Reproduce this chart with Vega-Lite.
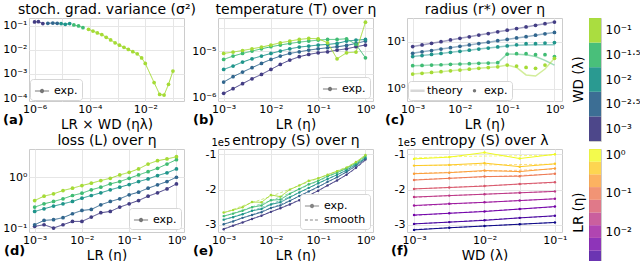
{
"$schema": "https://vega.github.io/schema/vega-lite/v6.json",
"padding": {"left": 2, "top": 1, "right": 0, "bottom": 0},
"config": {
  "font": "DejaVu Sans",
  "view": {"stroke": "#cccccc", "strokeWidth": 1},
  "axis": {"grid": true, "gridColor": "#e6e6e6", "gridWidth": 1, "domain": false, "ticks": false, "labelFontSize": 11, "labelColor": "#000000", "labelPadding": 2, "labelFlush": false, "labelOverlap": false, "titleFontSize": 13.5, "titleFontWeight": "normal", "titleColor": "#000000", "titlePadding": 3},
  "title": {"fontSize": 13, "fontWeight": "bold", "color": "#000000"},
  "legend": {"labelFontSize": 11, "labelColor": "#000000"}
},
"datasets": {
  "a": [
    {"lrwd":1e-6,"var":0.148,"wd":0.001},
    {"lrwd":1.38e-6,"var":0.151,"wd":0.001},
    {"lrwd":2.0e-6,"var":0.126,"wd":0.001},
    {"lrwd":3.02e-6,"var":0.129,"wd":0.00316},
    {"lrwd":4.57e-6,"var":0.133,"wd":0.00316},
    {"lrwd":6.61e-6,"var":0.129,"wd":0.00316},
    {"lrwd":9.12e-6,"var":0.126,"wd":0.01},
    {"lrwd":1.29e-5,"var":0.117,"wd":0.01},
    {"lrwd":1.86e-5,"var":0.126,"wd":0.01},
    {"lrwd":2.63e-5,"var":0.110,"wd":0.0316},
    {"lrwd":3.89e-5,"var":0.100,"wd":0.0316},
    {"lrwd":5.62e-5,"var":0.0851,"wd":0.0316},
    {"lrwd":8.91e-5,"var":0.0724,"wd":0.1},
    {"lrwd":1.29e-4,"var":0.0617,"wd":0.1},
    {"lrwd":1.86e-4,"var":0.0513,"wd":0.1},
    {"lrwd":2.69e-4,"var":0.0437,"wd":0.1},
    {"lrwd":3.89e-4,"var":0.0339,"wd":0.1},
    {"lrwd":5.62e-4,"var":0.0263,"wd":0.1},
    {"lrwd":8.13e-4,"var":0.0200,"wd":0.1},
    {"lrwd":1.17e-3,"var":0.0158,"wd":0.1},
    {"lrwd":1.70e-3,"var":0.0129,"wd":0.1},
    {"lrwd":2.45e-3,"var":0.0105,"wd":0.1},
    {"lrwd":3.55e-3,"var":0.00851,"wd":0.1},
    {"lrwd":5.13e-3,"var":0.00692,"wd":0.1},
    {"lrwd":7.41e-3,"var":0.00468,"wd":0.1},
    {"lrwd":0.01,"var":0.00275,"wd":0.1},
    {"lrwd":0.0209,"var":4.4e-4,"wd":0.1},
    {"lrwd":0.0331,"var":1.41e-4,"wd":0.1},
    {"lrwd":0.0479,"var":1.33e-4,"wd":0.1},
    {"lrwd":0.0692,"var":3.7e-4,"wd":0.1},
    {"lrwd":0.1,"var":1.33e-3,"wd":0.1}
  ],
  "b": [
    {"lr":0.001,"wd":0.001,"T":1.24e-6},{"lr":0.00158,"wd":0.001,"T":1.56e-6},{"lr":0.00251,"wd":0.001,"T":2.0e-6},{"lr":0.00398,"wd":0.001,"T":2.55e-6},
    {"lr":0.00631,"wd":0.001,"T":3.16e-6},{"lr":0.01,"wd":0.001,"T":4.05e-6},{"lr":0.0158,"wd":0.001,"T":5.18e-6},{"lr":0.0251,"wd":0.001,"T":6.41e-6},
    {"lr":0.0398,"wd":0.001,"T":7.57e-6},{"lr":0.0631,"wd":0.001,"T":8.49e-6},{"lr":0.1,"wd":0.001,"T":9.2e-6},{"lr":0.158,"wd":0.001,"T":9.68e-6},
    {"lr":0.251,"wd":0.001,"T":1.05e-5},{"lr":0.398,"wd":0.001,"T":1.12e-5},{"lr":0.631,"wd":0.001,"T":1.24e-5},{"lr":1,"wd":0.001,"T":1.35e-5},
    {"lr":0.001,"wd":0.00316,"T":2.17e-6},{"lr":0.00158,"wd":0.00316,"T":2.82e-6},{"lr":0.00251,"wd":0.00316,"T":3.55e-6},{"lr":0.00398,"wd":0.00316,"T":4.4e-6},
    {"lr":0.00631,"wd":0.00316,"T":5.45e-6},{"lr":0.01,"wd":0.00316,"T":6.62e-6},{"lr":0.0158,"wd":0.00316,"T":7.82e-6},{"lr":0.0251,"wd":0.00316,"T":8.91e-6},
    {"lr":0.0398,"wd":0.00316,"T":9.68e-6},{"lr":0.0631,"wd":0.00316,"T":1.05e-5},{"lr":0.1,"wd":0.00316,"T":1.12e-5},{"lr":0.158,"wd":0.00316,"T":1.18e-5},
    {"lr":0.251,"wd":0.00316,"T":1.24e-5},{"lr":0.398,"wd":0.00316,"T":1.32e-5},{"lr":0.631,"wd":0.00316,"T":1.46e-5},{"lr":1,"wd":0.00316,"T":1.64e-5},
    {"lr":0.001,"wd":0.01,"T":4.05e-6},{"lr":0.00158,"wd":0.01,"T":4.78e-6},{"lr":0.00251,"wd":0.01,"T":5.81e-6},{"lr":0.00398,"wd":0.01,"T":6.85e-6},
    {"lr":0.00631,"wd":0.01,"T":7.82e-6},{"lr":0.01,"wd":0.01,"T":8.91e-6},{"lr":0.0158,"wd":0.01,"T":1.0e-5},{"lr":0.0251,"wd":0.01,"T":1.12e-5},
    {"lr":0.0398,"wd":0.01,"T":1.22e-5},{"lr":0.0631,"wd":0.01,"T":1.28e-5},{"lr":0.1,"wd":0.01,"T":1.35e-5},{"lr":0.158,"wd":0.01,"T":1.39e-5},
    {"lr":0.251,"wd":0.01,"T":1.46e-5},{"lr":0.398,"wd":0.01,"T":1.64e-5},{"lr":0.631,"wd":0.01,"T":1.72e-5},{"lr":1,"wd":0.01,"T":1.78e-5},
    {"lr":0.001,"wd":0.0316,"T":6.62e-6},{"lr":0.00158,"wd":0.0316,"T":7.82e-6},{"lr":0.00251,"wd":0.0316,"T":8.91e-6},{"lr":0.00398,"wd":0.0316,"T":1.0e-5},
    {"lr":0.00631,"wd":0.0316,"T":1.12e-5},{"lr":0.01,"wd":0.0316,"T":1.24e-5},{"lr":0.0158,"wd":0.0316,"T":1.35e-5},{"lr":0.0251,"wd":0.0316,"T":1.46e-5},
    {"lr":0.0398,"wd":0.0316,"T":1.56e-5},{"lr":0.0631,"wd":0.0316,"T":1.64e-5},{"lr":0.1,"wd":0.0316,"T":1.72e-5},{"lr":0.158,"wd":0.0316,"T":1.78e-5},
    {"lr":0.251,"wd":0.0316,"T":1.78e-5},{"lr":0.398,"wd":0.0316,"T":1.84e-5},{"lr":0.631,"wd":0.0316,"T":1.39e-5},{"lr":1,"wd":0.0316,"T":7.19e-6},
    {"lr":0.001,"wd":0.1,"T":8.91e-6},{"lr":0.00158,"wd":0.1,"T":9.53e-6},{"lr":0.00251,"wd":0.1,"T":1.03e-5},{"lr":0.00398,"wd":0.1,"T":1.12e-5},
    {"lr":0.00631,"wd":0.1,"T":1.22e-5},{"lr":0.01,"wd":0.1,"T":1.35e-5},{"lr":0.0158,"wd":0.1,"T":1.51e-5},{"lr":0.0251,"wd":0.1,"T":1.64e-5},
    {"lr":0.0398,"wd":0.1,"T":1.78e-5},{"lr":0.0631,"wd":0.1,"T":1.87e-5},{"lr":0.1,"wd":0.1,"T":1.84e-5},{"lr":0.158,"wd":0.1,"T":1.51e-5},
    {"lr":0.251,"wd":0.1,"T":6.85e-6},{"lr":0.398,"wd":0.1,"T":9.2e-6},{"lr":0.631,"wd":0.1,"T":9.53e-6},{"lr":1,"wd":0.1,"T":4.18e-5}
  ],
  "c": [
    {"lr":0.001,"wd":0.001,"r":7.82,"rt":7.82},{"lr":0.00158,"wd":0.001,"r":8.47,"rt":8.47},{"lr":0.00251,"wd":0.001,"r":9.16,"rt":9.16},{"lr":0.00398,"wd":0.001,"r":9.93,"rt":9.93},
    {"lr":0.00631,"wd":0.001,"r":10.8,"rt":10.8},{"lr":0.01,"wd":0.001,"r":11.7,"rt":11.7},{"lr":0.0158,"wd":0.001,"r":12.6,"rt":12.6},{"lr":0.0251,"wd":0.001,"r":13.7,"rt":13.7},
    {"lr":0.0398,"wd":0.001,"r":14.8,"rt":14.8},{"lr":0.0631,"wd":0.001,"r":16.1,"rt":16.1},{"lr":0.1,"wd":0.001,"r":17.4,"rt":17.4},{"lr":0.158,"wd":0.001,"r":18.8,"rt":18.8},
    {"lr":0.251,"wd":0.001,"r":20.4,"rt":20.4},{"lr":0.398,"wd":0.001,"r":22.1,"rt":22.1},{"lr":0.631,"wd":0.001,"r":23.9,"rt":23.9},{"lr":1,"wd":0.001,"r":25.9,"rt":25.9},
    {"lr":0.001,"wd":0.00316,"r":5.62,"rt":5.62},{"lr":0.00158,"wd":0.00316,"r":6.03,"rt":6.03},{"lr":0.00251,"wd":0.00316,"r":6.44,"rt":6.44},{"lr":0.00398,"wd":0.00316,"r":6.9,"rt":6.9},
    {"lr":0.00631,"wd":0.00316,"r":7.38,"rt":7.38},{"lr":0.01,"wd":0.00316,"r":7.91,"rt":7.91},{"lr":0.0158,"wd":0.00316,"r":8.45,"rt":8.45},{"lr":0.0251,"wd":0.00316,"r":9.06,"rt":9.06},
    {"lr":0.0398,"wd":0.00316,"r":9.68,"rt":9.68},{"lr":0.0631,"wd":0.00316,"r":10.4,"rt":10.4},{"lr":0.1,"wd":0.00316,"r":11.1,"rt":11.1},{"lr":0.158,"wd":0.00316,"r":11.9,"rt":11.9},
    {"lr":0.251,"wd":0.00316,"r":12.7,"rt":12.7},{"lr":0.398,"wd":0.00316,"r":13.6,"rt":13.6},{"lr":0.631,"wd":0.00316,"r":14.6,"rt":14.6},{"lr":1,"wd":0.00316,"r":15.6,"rt":15.6},
    {"lr":0.001,"wd":0.01,"r":4.78,"rt":4.78},{"lr":0.00158,"wd":0.01,"r":5.04,"rt":5.04},{"lr":0.00251,"wd":0.01,"r":5.31,"rt":5.31},{"lr":0.00398,"wd":0.01,"r":5.58,"rt":5.58},
    {"lr":0.00631,"wd":0.01,"r":5.89,"rt":5.89},{"lr":0.01,"wd":0.01,"r":6.21,"rt":6.21},{"lr":0.0158,"wd":0.01,"r":6.55,"rt":6.55},{"lr":0.0251,"wd":0.01,"r":6.9,"rt":6.9},
    {"lr":0.0398,"wd":0.01,"r":7.26,"rt":7.26},{"lr":0.0631,"wd":0.01,"r":7.66,"rt":7.66},{"lr":0.1,"wd":0.01,"r":8.07,"rt":8.07},{"lr":0.158,"wd":0.01,"r":8.5,"rt":8.3},
    {"lr":0.251,"wd":0.01,"r":9.0,"rt":8.45},{"lr":0.398,"wd":0.01,"r":9.0,"rt":8.5},{"lr":0.631,"wd":0.01,"r":9.3,"rt":8.5},{"lr":1,"wd":0.01,"r":9.5,"rt":8.5},
    {"lr":0.001,"wd":0.0316,"r":3.06,"rt":3.06},{"lr":0.00158,"wd":0.0316,"r":3.11,"rt":3.11},{"lr":0.00251,"wd":0.0316,"r":3.16,"rt":3.16},{"lr":0.00398,"wd":0.0316,"r":3.21,"rt":3.21},
    {"lr":0.00631,"wd":0.0316,"r":3.27,"rt":3.27},{"lr":0.01,"wd":0.0316,"r":3.33,"rt":3.33},{"lr":0.0158,"wd":0.0316,"r":3.38,"rt":3.38},{"lr":0.0251,"wd":0.0316,"r":3.44,"rt":3.44},
    {"lr":0.0398,"wd":0.0316,"r":3.49,"rt":3.49},{"lr":0.0631,"wd":0.0316,"r":3.55,"rt":3.55},{"lr":0.1,"wd":0.0316,"r":5.37,"rt":5.45},{"lr":0.158,"wd":0.0316,"r":5.5,"rt":5.37},
    {"lr":0.251,"wd":0.0316,"r":5.5,"rt":5.25},{"lr":0.398,"wd":0.0316,"r":5.25,"rt":4.79},{"lr":0.631,"wd":0.0316,"r":5.25,"rt":3.98},{"lr":1,"wd":0.0316,"r":4.79,"rt":3.16},
    {"lr":0.001,"wd":0.1,"r":2.03,"rt":2.03},{"lr":0.00158,"wd":0.1,"r":2.11,"rt":2.11},{"lr":0.00251,"wd":0.1,"r":2.2,"rt":2.2},{"lr":0.00398,"wd":0.1,"r":2.29,"rt":2.29},
    {"lr":0.00631,"wd":0.1,"r":2.38,"rt":2.38},{"lr":0.01,"wd":0.1,"r":2.48,"rt":2.48},{"lr":0.0158,"wd":0.1,"r":2.58,"rt":2.58},{"lr":0.0251,"wd":0.1,"r":2.69,"rt":2.69},
    {"lr":0.0398,"wd":0.1,"r":2.8,"rt":2.8},{"lr":0.0631,"wd":0.1,"r":2.91,"rt":2.91},{"lr":0.1,"wd":0.1,"r":3.16,"rt":3.16},{"lr":0.158,"wd":0.1,"r":3.01,"rt":2.82},
    {"lr":0.251,"wd":0.1,"r":2.82,"rt":1.95},{"lr":0.398,"wd":0.1,"r":2.69,"rt":1.85},{"lr":0.631,"wd":0.1,"r":3.16,"rt":2.6},{"lr":1,"wd":0.1,"r":4.4,"rt":4.4}
  ],
  "d": [
    {"lr":0.001,"wd":0.001,"L":0.108},{"lr":0.00158,"wd":0.001,"L":0.116},{"lr":0.00251,"wd":0.001,"L":0.100},{"lr":0.00398,"wd":0.001,"L":0.116},
    {"lr":0.00631,"wd":0.001,"L":0.135},{"lr":0.01,"wd":0.001,"L":0.135},{"lr":0.0158,"wd":0.001,"L":0.164},{"lr":0.0251,"wd":0.001,"L":0.200},
    {"lr":0.0398,"wd":0.001,"L":0.212},{"lr":0.0631,"wd":0.001,"L":0.258},{"lr":0.1,"wd":0.001,"L":0.300},{"lr":0.158,"wd":0.001,"L":0.348},
    {"lr":0.251,"wd":0.001,"L":0.424},{"lr":0.398,"wd":0.001,"L":0.493},{"lr":0.631,"wd":0.001,"L":0.590},{"lr":1,"wd":0.001,"L":0.740},
    {"lr":0.001,"wd":0.00316,"L":0.116},{"lr":0.00158,"wd":0.00316,"L":0.141},{"lr":0.00251,"wd":0.00316,"L":0.146},{"lr":0.00398,"wd":0.00316,"L":0.160},
    {"lr":0.00631,"wd":0.00316,"L":0.191},{"lr":0.01,"wd":0.00316,"L":0.222},{"lr":0.0158,"wd":0.00316,"L":0.232},{"lr":0.0251,"wd":0.00316,"L":0.287},
    {"lr":0.0398,"wd":0.00316,"L":0.333},{"lr":0.0631,"wd":0.00316,"L":0.376},{"lr":0.1,"wd":0.00316,"L":0.451},{"lr":0.158,"wd":0.00316,"L":0.508},
    {"lr":0.251,"wd":0.00316,"L":0.608},{"lr":0.398,"wd":0.00316,"L":0.708},{"lr":0.631,"wd":0.00316,"L":0.822},{"lr":1,"wd":0.00316,"L":1.0},
    {"lr":0.001,"wd":0.01,"L":0.212},{"lr":0.00158,"wd":0.01,"L":0.239},{"lr":0.00251,"wd":0.01,"L":0.270},{"lr":0.00398,"wd":0.01,"L":0.300},
    {"lr":0.00631,"wd":0.01,"L":0.333},{"lr":0.01,"wd":0.01,"L":0.387},{"lr":0.0158,"wd":0.01,"L":0.437},{"lr":0.0251,"wd":0.01,"L":0.493},
    {"lr":0.0398,"wd":0.01,"L":0.565},{"lr":0.0631,"wd":0.01,"L":0.637},{"lr":0.1,"wd":0.01,"L":0.718},{"lr":0.158,"wd":0.01,"L":0.822},
    {"lr":0.251,"wd":0.01,"L":0.927},{"lr":0.398,"wd":0.01,"L":1.08},{"lr":0.631,"wd":0.01,"L":1.22},{"lr":1,"wd":0.01,"L":1.46},
    {"lr":0.001,"wd":0.0316,"L":0.258},{"lr":0.00158,"wd":0.0316,"L":0.300},{"lr":0.00251,"wd":0.0316,"L":0.333},{"lr":0.00398,"wd":0.0316,"L":0.376},
    {"lr":0.00631,"wd":0.0316,"L":0.437},{"lr":0.01,"wd":0.0316,"L":0.485},{"lr":0.0158,"wd":0.0316,"L":0.565},{"lr":0.0251,"wd":0.0316,"L":0.637},
    {"lr":0.0398,"wd":0.0316,"L":0.740},{"lr":0.0631,"wd":0.0316,"L":0.822},{"lr":0.1,"wd":0.0316,"L":0.955},{"lr":0.158,"wd":0.0316,"L":1.11},
    {"lr":0.251,"wd":0.0316,"L":1.29},{"lr":0.398,"wd":0.0316,"L":1.50},{"lr":0.631,"wd":0.0316,"L":1.82},{"lr":1,"wd":0.0316,"L":2.22},
    {"lr":0.001,"wd":0.1,"L":0.348},{"lr":0.00158,"wd":0.1,"L":0.424},{"lr":0.00251,"wd":0.1,"L":0.471},{"lr":0.00398,"wd":0.1,"L":0.548},
    {"lr":0.00631,"wd":0.1,"L":0.608},{"lr":0.01,"wd":0.1,"L":0.687},{"lr":0.0158,"wd":0.1,"L":0.762},{"lr":0.0251,"wd":0.1,"L":0.861},
    {"lr":0.0398,"wd":0.1,"L":0.955},{"lr":0.0631,"wd":0.1,"L":1.11},{"lr":0.1,"wd":0.1,"L":1.25},{"lr":0.158,"wd":0.1,"L":1.46},
    {"lr":0.251,"wd":0.1,"L":1.82},{"lr":0.398,"wd":0.1,"L":2.12},{"lr":0.631,"wd":0.1,"L":2.29},{"lr":1,"wd":0.1,"L":2.54}
  ],
  "e": [
    {"lr":0.001,"wd":0.001,"S":-312000,"Ss":-311000},{"lr":0.00158,"wd":0.001,"S":-302000,"Ss":-302000},{"lr":0.00251,"wd":0.001,"S":-293000,"Ss":-293000},{"lr":0.00398,"wd":0.001,"S":-283000,"Ss":-283000},
    {"lr":0.00631,"wd":0.001,"S":-274000,"Ss":-273000},{"lr":0.01,"wd":0.001,"S":-263000,"Ss":-263000},{"lr":0.0158,"wd":0.001,"S":-253000,"Ss":-252000},{"lr":0.0251,"wd":0.001,"S":-242000,"Ss":-241000},
    {"lr":0.0398,"wd":0.001,"S":-230000,"Ss":-229000},{"lr":0.0631,"wd":0.001,"S":-217000,"Ss":-216000},{"lr":0.1,"wd":0.001,"S":-203000,"Ss":-203000},{"lr":0.158,"wd":0.001,"S":-188000,"Ss":-189000},
    {"lr":0.251,"wd":0.001,"S":-174000,"Ss":-174000},{"lr":0.398,"wd":0.001,"S":-158000,"Ss":-158000},{"lr":0.631,"wd":0.001,"S":-138000,"Ss":-140000},{"lr":1,"wd":0.001,"S":-115000,"Ss":-117000},
    {"lr":0.001,"wd":0.00316,"S":-298000,"Ss":-298000},{"lr":0.00158,"wd":0.00316,"S":-290000,"Ss":-289000},{"lr":0.00251,"wd":0.00316,"S":-280000,"Ss":-280000},{"lr":0.00398,"wd":0.00316,"S":-272000,"Ss":-271000},
    {"lr":0.00631,"wd":0.00316,"S":-264000,"Ss":-262000},{"lr":0.01,"wd":0.00316,"S":-252000,"Ss":-252000},{"lr":0.0158,"wd":0.00316,"S":-245000,"Ss":-242000},{"lr":0.0251,"wd":0.00316,"S":-232000,"Ss":-231000},
    {"lr":0.0398,"wd":0.00316,"S":-218000,"Ss":-219000},{"lr":0.0631,"wd":0.00316,"S":-205000,"Ss":-206000},{"lr":0.1,"wd":0.00316,"S":-192000,"Ss":-193000},{"lr":0.158,"wd":0.00316,"S":-178000,"Ss":-179000},
    {"lr":0.251,"wd":0.00316,"S":-165000,"Ss":-165000},{"lr":0.398,"wd":0.00316,"S":-150000,"Ss":-150000},{"lr":0.631,"wd":0.00316,"S":-132000,"Ss":-134000},{"lr":1,"wd":0.00316,"S":-112000,"Ss":-115000},
    {"lr":0.001,"wd":0.01,"S":-285000,"Ss":-286000},{"lr":0.00158,"wd":0.01,"S":-278000,"Ss":-277000},{"lr":0.00251,"wd":0.01,"S":-270000,"Ss":-269000},{"lr":0.00398,"wd":0.01,"S":-260000,"Ss":-260000},
    {"lr":0.00631,"wd":0.01,"S":-255000,"Ss":-251000},{"lr":0.01,"wd":0.01,"S":-242000,"Ss":-241000},{"lr":0.0158,"wd":0.01,"S":-236000,"Ss":-231000},{"lr":0.0251,"wd":0.01,"S":-222000,"Ss":-220000},
    {"lr":0.0398,"wd":0.01,"S":-208000,"Ss":-208000},{"lr":0.0631,"wd":0.01,"S":-195000,"Ss":-196000},{"lr":0.1,"wd":0.01,"S":-182000,"Ss":-183000},{"lr":0.158,"wd":0.01,"S":-170000,"Ss":-170000},
    {"lr":0.251,"wd":0.01,"S":-158000,"Ss":-158000},{"lr":0.398,"wd":0.01,"S":-145000,"Ss":-145000},{"lr":0.631,"wd":0.01,"S":-128000,"Ss":-130000},{"lr":1,"wd":0.01,"S":-110000,"Ss":-112000},
    {"lr":0.001,"wd":0.0316,"S":-275000,"Ss":-276000},{"lr":0.00158,"wd":0.0316,"S":-268000,"Ss":-267000},{"lr":0.00251,"wd":0.0316,"S":-260000,"Ss":-258000},{"lr":0.00398,"wd":0.0316,"S":-250000,"Ss":-249000},
    {"lr":0.00631,"wd":0.0316,"S":-245000,"Ss":-240000},{"lr":0.01,"wd":0.0316,"S":-230000,"Ss":-231000},{"lr":0.0158,"wd":0.0316,"S":-228000,"Ss":-221000},{"lr":0.0251,"wd":0.0316,"S":-212000,"Ss":-210000},
    {"lr":0.0398,"wd":0.0316,"S":-198000,"Ss":-199000},{"lr":0.0631,"wd":0.0316,"S":-185000,"Ss":-187000},{"lr":0.1,"wd":0.0316,"S":-175000,"Ss":-176000},{"lr":0.158,"wd":0.0316,"S":-162000,"Ss":-164000},
    {"lr":0.251,"wd":0.0316,"S":-152000,"Ss":-152000},{"lr":0.398,"wd":0.0316,"S":-140000,"Ss":-140000},{"lr":0.631,"wd":0.0316,"S":-125000,"Ss":-126000},{"lr":1,"wd":0.0316,"S":-105000,"Ss":-108000},
    {"lr":0.001,"wd":0.1,"S":-265000,"Ss":-266000},{"lr":0.00158,"wd":0.1,"S":-258000,"Ss":-256000},{"lr":0.00251,"wd":0.1,"S":-250000,"Ss":-246000},{"lr":0.00398,"wd":0.1,"S":-235000,"Ss":-237000},
    {"lr":0.00631,"wd":0.1,"S":-236000,"Ss":-228000},{"lr":0.01,"wd":0.1,"S":-215000,"Ss":-219000},{"lr":0.0158,"wd":0.1,"S":-220000,"Ss":-209000},{"lr":0.0251,"wd":0.1,"S":-200000,"Ss":-199000},
    {"lr":0.0398,"wd":0.1,"S":-188000,"Ss":-188000},{"lr":0.0631,"wd":0.1,"S":-175000,"Ss":-178000},{"lr":0.1,"wd":0.1,"S":-168000,"Ss":-168000},{"lr":0.158,"wd":0.1,"S":-158000,"Ss":-158000},
    {"lr":0.251,"wd":0.1,"S":-148000,"Ss":-147000},{"lr":0.398,"wd":0.1,"S":-138000,"Ss":-136000},{"lr":0.631,"wd":0.1,"S":-122000,"Ss":-122000},{"lr":1,"wd":0.1,"S":-102000,"Ss":-105000}
  ],
  "f": [
    {"lr":0.001,"wd":0.001,"S":-314000,"Ss":-313000},{"lr":0.001,"wd":0.00316,"S":-308000,"Ss":-308000},{"lr":0.001,"wd":0.01,"S":-303000,"Ss":-303000},{"lr":0.001,"wd":0.0316,"S":-298000,"Ss":-298000},{"lr":0.001,"wd":0.1,"S":-293000,"Ss":-293000},
    {"lr":0.00215,"wd":0.001,"S":-297000,"Ss":-297000},{"lr":0.00215,"wd":0.00316,"S":-292000,"Ss":-292000},{"lr":0.00215,"wd":0.01,"S":-287000,"Ss":-286000},{"lr":0.00215,"wd":0.0316,"S":-280000,"Ss":-280000},{"lr":0.00215,"wd":0.1,"S":-274000,"Ss":-275000},
    {"lr":0.00464,"wd":0.001,"S":-272000,"Ss":-273000},{"lr":0.00464,"wd":0.00316,"S":-267000,"Ss":-267000},{"lr":0.00464,"wd":0.01,"S":-262000,"Ss":-261000},{"lr":0.00464,"wd":0.0316,"S":-255000,"Ss":-255000},{"lr":0.00464,"wd":0.1,"S":-248000,"Ss":-249000},
    {"lr":0.01,"wd":0.001,"S":-245000,"Ss":-246000},{"lr":0.01,"wd":0.00316,"S":-240000,"Ss":-241000},{"lr":0.01,"wd":0.01,"S":-236000,"Ss":-236000},{"lr":0.01,"wd":0.0316,"S":-231000,"Ss":-231000},{"lr":0.01,"wd":0.1,"S":-226000,"Ss":-226000},
    {"lr":0.0215,"wd":0.001,"S":-221000,"Ss":-222000},{"lr":0.0215,"wd":0.00316,"S":-217000,"Ss":-217000},{"lr":0.0215,"wd":0.01,"S":-213000,"Ss":-213000},{"lr":0.0215,"wd":0.0316,"S":-209000,"Ss":-209000},{"lr":0.0215,"wd":0.1,"S":-205000,"Ss":-205000},
    {"lr":0.0464,"wd":0.001,"S":-198000,"Ss":-198000},{"lr":0.0464,"wd":0.00316,"S":-194000,"Ss":-194000},{"lr":0.0464,"wd":0.01,"S":-190000,"Ss":-189000},{"lr":0.0464,"wd":0.0316,"S":-184000,"Ss":-185000},{"lr":0.0464,"wd":0.1,"S":-179000,"Ss":-180000},
    {"lr":0.1,"wd":0.001,"S":-173000,"Ss":-172000},{"lr":0.1,"wd":0.00316,"S":-168000,"Ss":-168000},{"lr":0.1,"wd":0.01,"S":-163000,"Ss":-164000},{"lr":0.1,"wd":0.0316,"S":-162000,"Ss":-160000},{"lr":0.1,"wd":0.1,"S":-155000,"Ss":-156000},
    {"lr":0.215,"wd":0.001,"S":-155000,"Ss":-154000},{"lr":0.215,"wd":0.00316,"S":-152000,"Ss":-151000},{"lr":0.215,"wd":0.01,"S":-146000,"Ss":-148000},{"lr":0.215,"wd":0.0316,"S":-149000,"Ss":-145000},{"lr":0.215,"wd":0.1,"S":-140000,"Ss":-142000},
    {"lr":0.464,"wd":0.001,"S":-132000,"Ss":-132000},{"lr":0.464,"wd":0.00316,"S":-130000,"Ss":-131000},{"lr":0.464,"wd":0.01,"S":-125000,"Ss":-130000},{"lr":0.464,"wd":0.0316,"S":-135000,"Ss":-129000},{"lr":0.464,"wd":0.1,"S":-127000,"Ss":-128000},
    {"lr":1,"wd":0.001,"S":-113000,"Ss":-110000},{"lr":1,"wd":0.00316,"S":-108000,"Ss":-107000},{"lr":1,"wd":0.01,"S":-95000,"Ss":-105000},{"lr":1,"wd":0.0316,"S":-112000,"Ss":-104000},{"lr":1,"wd":0.1,"S":-100000,"Ss":-102000}
  ],
  "cbwd": [{"wd":0.001},{"wd":0.00316},{"wd":0.01},{"wd":0.0316},{"wd":0.1}],
  "cblr": [{"lr":0.001},{"lr":0.00215},{"lr":0.00464},{"lr":0.01},{"lr":0.0215},{"lr":0.0464},{"lr":0.1},{"lr":0.215},{"lr":0.464},{"lr":1}]
},
"resolve": {"scale": {"color": "independent", "strokeDash": "independent", "opacity": "independent"}, "legend": {"color": "independent", "strokeDash": "independent", "opacity": "independent"}},
"bounds": "full",
"spacing": 2,
"hconcat": [
 {"bounds": "flush", "columns": 3, "spacing": {"row": 48, "column": 34},
  "resolve": {"scale": {"color": "independent", "strokeDash": "independent", "opacity": "independent"}, "legend": {"color": "independent", "strokeDash": "independent", "opacity": "independent"}},
  "concat": [
   {"width": 155, "height": 83, "data": {"name": "a"},
    "title": {"text": "(a)", "orient": "bottom", "anchor": "start", "frame": "group", "align": "left", "dx": -26, "offset": -17},
    "resolve": {"axis": {"x": "independent"}},
    "encoding": {
      "y": {"field": "var", "type": "quantitative", "scale": {"type": "log", "domain": [7.5e-5, 0.215], "nice": false},
            "axis": {"title": null, "values": [1e-4, 1e-3, 1e-2, 1e-1],
                     "labelExpr": "'10' + (round(log(datum.value)/LN10) < 0 ? '⁻' : '') + ['⁰','¹','²','³','⁴','⁵','⁶'][abs(round(log(datum.value)/LN10))]"}},
      "color": {"field": "wd", "type": "ordinal", "scale": {"domain": [0.001, 0.00316, 0.01, 0.0316, 0.1], "range": ["#433d84", "#31668e", "#1f958b", "#3fbc73", "#a5db36"]}, "legend": null}
    },
    "layer": [
      {"mark": {"type": "line", "strokeWidth": 1},
       "encoding": {
         "x": {"field": "lrwd", "type": "quantitative", "scale": {"type": "log", "domain": [6.31e-7, 0.251], "nice": false},
               "axis": {"title": "LR × WD (ηλ)", "values": [1e-6, 1e-5, 1e-4, 1e-3, 1e-2, 1e-1],
                        "labelExpr": "round(log(datum.value)/LN10) % 2 == 0 ? '10' + (round(log(datum.value)/LN10) < 0 ? '⁻' : '') + ['⁰','¹','²','³','⁴','⁵','⁶'][abs(round(log(datum.value)/LN10))] : ''"}},
         "strokeDash": {"datum": "exp.", "type": "nominal", "scale": {"domain": ["exp."], "range": [[1, 0]]},
         "legend": {"title": null, "orient": "bottom-left", "offset": 1, "fillColor": "#ffffff", "strokeColor": "#d6d6d6", "cornerRadius": 3, "padding": 4, "labelFontSize": 11, "symbolSize": 200,
           "symbolType": "M-1,0L1,0M-0.22,0A0.22,0.22,0,1,0,0.22,0A0.22,0.22,0,1,0,-0.22,0Z", "symbolStrokeWidth": 1.2, "symbolStrokeColor": "#777777", "symbolFillColor": "#777777",
           "encode": {"symbols": {"update": {"fill": {"value": "#777777"}, "stroke": {"value": "#777777"}, "opacity": {"value": 1}}}}}}}},
      {"mark": {"type": "point", "filled": true, "size": 14, "opacity": 1},
       "encoding": {"x": {"field": "lrwd", "type": "quantitative", "scale": {"type": "log", "domain": [6.31e-7, 0.251], "nice": false},
         "axis": {"orient": "top", "title": "stoch. grad. variance (σ²)", "labels": false, "grid": false, "ticks": false, "domain": false, "titleFontSize": 14, "titlePadding": 2}}}}
    ]},
   {"width": 155, "height": 83, "data": {"name": "b"},
    "title": {"text": "(b)", "orient": "bottom", "anchor": "start", "frame": "group", "align": "left", "dx": -25, "offset": -17},
    "resolve": {"axis": {"x": "independent"}},
    "encoding": {
      "y": {"field": "T", "type": "quantitative", "scale": {"type": "log", "domain": [8.5e-7, 5.13e-5], "nice": false},
            "axis": {"title": null, "values": [1e-6, 3.1623e-6, 1e-5, 3.1623e-5],
                     "labelExpr": "abs(log(datum.value)/LN10 - round(log(datum.value)/LN10)) < 0.05 ? '10' + (round(log(datum.value)/LN10) < 0 ? '⁻' : '') + ['⁰','¹','²','³','⁴','⁵','⁶'][abs(round(log(datum.value)/LN10))] : ''"}},
      "color": {"field": "wd", "type": "ordinal", "scale": {"domain": [0.001, 0.00316, 0.01, 0.0316, 0.1], "range": ["#433d84", "#31668e", "#1f958b", "#3fbc73", "#a5db36"]}, "legend": null}
    },
    "layer": [
      {"mark": {"type": "line", "strokeWidth": 1},
       "encoding": {
         "x": {"field": "lr", "type": "quantitative", "scale": {"type": "log", "domain": [7.59e-4, 1.445], "nice": false},
               "axis": {"title": "LR (η)", "values": [0.001, 0.01, 0.1, 1],
                        "labelExpr": "'10' + (round(log(datum.value)/LN10) < 0 ? '⁻' : '') + ['⁰','¹','²','³','⁴','⁵','⁶'][abs(round(log(datum.value)/LN10))]"}},
         "strokeDash": {"datum": "exp.", "type": "nominal", "scale": {"domain": ["exp."], "range": [[1, 0]]},
         "legend": {"title": null, "orient": "bottom-right", "offset": 3, "fillColor": "#ffffff", "strokeColor": "#d6d6d6", "cornerRadius": 3, "padding": 4, "labelFontSize": 11, "symbolSize": 200,
           "symbolType": "M-1,0L1,0M-0.22,0A0.22,0.22,0,1,0,0.22,0A0.22,0.22,0,1,0,-0.22,0Z", "symbolStrokeWidth": 1.2, "symbolStrokeColor": "#777777", "symbolFillColor": "#777777",
           "encode": {"symbols": {"update": {"fill": {"value": "#777777"}, "stroke": {"value": "#777777"}, "opacity": {"value": 1}}}}}}}},
      {"mark": {"type": "point", "filled": true, "size": 14, "opacity": 1},
       "encoding": {"x": {"field": "lr", "type": "quantitative", "scale": {"type": "log", "domain": [7.59e-4, 1.445], "nice": false},
         "axis": {"orient": "top", "title": "temperature (T) over η", "labels": false, "grid": false, "ticks": false, "domain": false, "titleFontSize": 14, "titlePadding": 2}}}}
    ]},
   {"width": 155, "height": 83, "data": {"name": "c"},
    "title": {"text": "(c)", "orient": "bottom", "anchor": "start", "frame": "group", "align": "left", "dx": -22, "offset": -17},
    "resolve": {"axis": {"x": "independent"}},
    "encoding": {
      "color": {"field": "wd", "type": "ordinal", "scale": {"domain": [0.001, 0.00316, 0.01, 0.0316, 0.1], "range": ["#433d84", "#31668e", "#1f958b", "#3fbc73", "#a5db36"]}, "legend": null}
    },
    "layer": [
      {"mark": {"type": "line", "strokeWidth": 1.5},
       "encoding": {
         "x": {"field": "lr", "type": "quantitative", "scale": {"type": "log", "domain": [7.59e-4, 1.445], "nice": false},
               "axis": {"title": "LR (η)", "values": [0.001, 0.01, 0.1, 1],
                        "labelExpr": "'10' + (round(log(datum.value)/LN10) < 0 ? '⁻' : '') + ['⁰','¹','²','³','⁴','⁵','⁶'][abs(round(log(datum.value)/LN10))]"}},
         "y": {"field": "rt", "type": "quantitative", "scale": {"type": "log", "domain": [0.545, 31.6], "nice": false},
               "axis": {"title": null, "values": [1, 10],
                        "labelExpr": "'10' + (round(log(datum.value)/LN10) < 0 ? '⁻' : '') + ['⁰','¹','²','³','⁴','⁵','⁶'][abs(round(log(datum.value)/LN10))]"}},
         "opacity": {"datum": "theory", "type": "nominal", "scale": {"domain": ["theory", "exp."], "range": [0.5, 1]},
           "legend": {"title": null, "orient": "bottom-left", "direction": "horizontal", "offset": 1, "fillColor": "#ffffff", "strokeColor": "#d6d6d6", "cornerRadius": 3, "padding": 4, "labelFontSize": 11, "symbolSize": 200, "columnPadding": 6,
             "encode": {"symbols": {"update": {
               "shape": {"signal": "datum.value === 'theory' ? 'M-1,0L1,0' : 'circle'"},
               "size": {"signal": "datum.value === 'theory' ? 200 : 12"},
               "strokeWidth": {"signal": "datum.value === 'theory' ? 2.5 : 0"},
               "stroke": {"value": "#b0b0b0"},
               "fill": {"signal": "datum.value === 'theory' ? 'transparent' : '#777777'"},
               "opacity": {"value": 1}}}}}}}},
      {"mark": {"type": "point", "filled": true, "size": 14},
       "encoding": {
         "x": {"field": "lr", "type": "quantitative", "scale": {"type": "log", "domain": [7.59e-4, 1.445], "nice": false},
               "axis": {"orient": "top", "title": "radius (r*) over η", "labels": false, "grid": false, "ticks": false, "domain": false, "titleFontSize": 14, "titlePadding": 2}},
         "y": {"field": "r", "type": "quantitative", "scale": {"type": "log", "domain": [0.545, 31.6], "nice": false}},
         "opacity": {"datum": "exp.", "type": "nominal"}}}
    ]},
   {"width": 155, "height": 83, "data": {"name": "d"},
    "title": {"text": "(d)", "orient": "bottom", "anchor": "start", "frame": "group", "align": "left", "dx": -25, "offset": -17},
    "resolve": {"axis": {"x": "independent"}},
    "encoding": {
      "y": {"field": "L", "type": "quantitative", "scale": {"type": "log", "domain": [0.0835, 3.6], "nice": false},
            "axis": {"title": null, "values": [0.1, 1],
                     "labelExpr": "'10' + (round(log(datum.value)/LN10) < 0 ? '⁻' : '') + ['⁰','¹','²','³','⁴','⁵','⁶'][abs(round(log(datum.value)/LN10))]"}},
      "color": {"field": "wd", "type": "ordinal", "scale": {"domain": [0.001, 0.00316, 0.01, 0.0316, 0.1], "range": ["#433d84", "#31668e", "#1f958b", "#3fbc73", "#a5db36"]}, "legend": null}
    },
    "layer": [
      {"mark": {"type": "line", "strokeWidth": 1},
       "encoding": {
         "x": {"field": "lr", "type": "quantitative", "scale": {"type": "log", "domain": [7.59e-4, 1.445], "nice": false},
               "axis": {"title": "LR (η)", "values": [0.001, 0.01, 0.1, 1],
                        "labelExpr": "'10' + (round(log(datum.value)/LN10) < 0 ? '⁻' : '') + ['⁰','¹','²','³','⁴','⁵','⁶'][abs(round(log(datum.value)/LN10))]"}},
         "strokeDash": {"datum": "exp.", "type": "nominal", "scale": {"domain": ["exp."], "range": [[1, 0]]},
         "legend": {"title": null, "orient": "bottom-right", "offset": 3, "fillColor": "#ffffff", "strokeColor": "#d6d6d6", "cornerRadius": 3, "padding": 4, "labelFontSize": 11, "symbolSize": 200,
           "symbolType": "M-1,0L1,0M-0.22,0A0.22,0.22,0,1,0,0.22,0A0.22,0.22,0,1,0,-0.22,0Z", "symbolStrokeWidth": 1.2, "symbolStrokeColor": "#777777", "symbolFillColor": "#777777",
           "encode": {"symbols": {"update": {"fill": {"value": "#777777"}, "stroke": {"value": "#777777"}, "opacity": {"value": 1}}}}}}}},
      {"mark": {"type": "point", "filled": true, "size": 14, "opacity": 1},
       "encoding": {"x": {"field": "lr", "type": "quantitative", "scale": {"type": "log", "domain": [7.59e-4, 1.445], "nice": false},
         "axis": {"orient": "top", "title": "loss (L) over η", "labels": false, "grid": false, "ticks": false, "domain": false, "titleFontSize": 14, "titlePadding": 2}}}}
    ]},
   {"width": 155, "height": 83, "data": {"name": "e"},
    "title": {"text": "(e)", "orient": "bottom", "anchor": "start", "frame": "group", "align": "left", "dx": -25, "offset": -17},
    "resolve": {"axis": {"x": "independent"}},
    "encoding": {
      "color": {"field": "wd", "type": "ordinal", "scale": {"domain": [0.001, 0.00316, 0.01, 0.0316, 0.1], "range": ["#433d84", "#31668e", "#1f958b", "#3fbc73", "#a5db36"]}, "legend": null}
    },
    "layer": [
      {"mark": {"type": "line", "strokeWidth": 1},
       "encoding": {
         "x": {"field": "lr", "type": "quantitative", "scale": {"type": "log", "domain": [7.59e-4, 1.445], "nice": false},
               "axis": {"title": "LR (η)", "values": [0.001, 0.01, 0.1, 1],
                        "labelExpr": "'10' + (round(log(datum.value)/LN10) < 0 ? '⁻' : '') + ['⁰','¹','²','³','⁴','⁵','⁶'][abs(round(log(datum.value)/LN10))]"}},
         "y": {"field": "S", "type": "quantitative", "scale": {"domain": [-320000, -85000], "nice": false, "zero": false},
               "axis": {"title": "1e5", "titleAngle": 0, "titleAlign": "left", "titleBaseline": "bottom", "titleX": -7, "titleY": -2, "titleFontSize": 10, "values": [-300000, -250000, -200000, -150000, -100000],
                        "labelExpr": "datum.value % 100000 == 0 ? '' + datum.value/100000 : ''"}},
         "strokeDash": {"datum": "exp.", "type": "nominal", "scale": {"domain": ["exp.", "smooth"], "range": [[1, 0], [3, 2]]},
           "legend": {"title": null, "orient": "bottom-right", "offset": 3, "fillColor": "#ffffff", "strokeColor": "#d6d6d6", "cornerRadius": 3, "padding": 4, "labelFontSize": 11, "symbolSize": 200, "rowPadding": 1,
             "encode": {"symbols": {"update": {
               "shape": {"signal": "datum.value === 'exp.' ? 'M-1,0L1,0M-0.22,0A0.22,0.22,0,1,0,0.22,0A0.22,0.22,0,1,0,-0.22,0Z' : 'M-1,0L1,0'"},
               "fill": {"signal": "datum.value === 'exp.' ? '#777777' : 'transparent'"},
               "stroke": {"value": "#888888"}, "strokeWidth": {"value": 1.2}, "opacity": {"value": 1}}}}}}}},
      {"mark": {"type": "point", "filled": true, "size": 6, "opacity": 1},
       "encoding": {
         "x": {"field": "lr", "type": "quantitative", "scale": {"type": "log", "domain": [7.59e-4, 1.445], "nice": false},
               "axis": {"orient": "top", "title": "entropy (S) over η", "labels": false, "grid": false, "ticks": false, "domain": false, "titleFontSize": 14, "titlePadding": 2}},
         "y": {"field": "S", "type": "quantitative", "scale": {"domain": [-320000, -85000], "nice": false, "zero": false}}}},
      {"mark": {"type": "line", "strokeWidth": 1, "opacity": 0.6},
       "encoding": {
         "x": {"field": "lr", "type": "quantitative", "scale": {"type": "log", "domain": [7.59e-4, 1.445], "nice": false}, "axis": null},
         "y": {"field": "Ss", "type": "quantitative", "scale": {"domain": [-320000, -85000], "nice": false, "zero": false}},
         "strokeDash": {"datum": "smooth", "type": "nominal"}}}
    ]},
   {"width": 155, "height": 83, "data": {"name": "f"},
    "title": {"text": "(f)", "orient": "bottom", "anchor": "start", "frame": "group", "align": "left", "dx": -16, "offset": -17},
    "resolve": {"axis": {"x": "independent"}},
    "encoding": {
      "color": {"field": "lr", "type": "ordinal", "scale": {"domain": [0.001, 0.00215, 0.00464, 0.01, 0.0215, 0.0464, 0.1, 0.215, 0.464, 1], "range": ["#0d0887", "#46039f", "#7201a8", "#9c179e", "#bd3786", "#d8576b", "#ed7953", "#fb9f3a", "#fdca26", "#f0f921"]}, "legend": null}
    },
    "layer": [
      {"mark": {"type": "line", "strokeWidth": 1},
       "encoding": {
         "x": {"field": "wd", "type": "quantitative", "scale": {"type": "log", "domain": [7.94e-4, 0.126], "nice": false},
               "axis": {"title": "WD (λ)", "values": [0.001, 0.0031623, 0.01, 0.031623, 0.1],
                        "labelExpr": "abs(log(datum.value)/LN10 - round(log(datum.value)/LN10)) < 0.05 ? '10' + (round(log(datum.value)/LN10) < 0 ? '⁻' : '') + ['⁰','¹','²','³','⁴','⁵','⁶'][abs(round(log(datum.value)/LN10))] : ''"}},
         "y": {"field": "S", "type": "quantitative", "scale": {"domain": [-320000, -85000], "nice": false, "zero": false},
               "axis": {"title": "1e5", "titleAngle": 0, "titleAlign": "left", "titleBaseline": "bottom", "titleX": -10, "titleY": -2, "titleFontSize": 10, "values": [-300000, -250000, -200000, -150000, -100000],
                        "labelExpr": "datum.value % 100000 == 0 ? '' + datum.value/100000 : ''"}}}},
      {"mark": {"type": "point", "filled": true, "size": 6, "opacity": 1},
       "encoding": {
         "x": {"field": "wd", "type": "quantitative", "scale": {"type": "log", "domain": [7.94e-4, 0.126], "nice": false},
               "axis": {"orient": "top", "title": "entropy (S) over λ", "labels": false, "grid": false, "ticks": false, "domain": false, "titleFontSize": 14, "titlePadding": 2}},
         "y": {"field": "S", "type": "quantitative", "scale": {"domain": [-320000, -85000], "nice": false, "zero": false}}}},
      {"mark": {"type": "line", "strokeWidth": 1, "opacity": 0.6, "strokeDash": [3, 2]},
       "encoding": {
         "x": {"field": "wd", "type": "quantitative", "scale": {"type": "log", "domain": [7.94e-4, 0.126], "nice": false}, "axis": null},
         "y": {"field": "Ss", "type": "quantitative", "scale": {"domain": [-320000, -85000], "nice": false, "zero": false}}}}
    ]}
  ]},
 {"bounds": "flush", "spacing": 8,
  "resolve": {"scale": {"color": "independent"}, "legend": {"color": "independent"}},
  "vconcat": [
   {"width": 12, "height": 123, "data": {"name": "cbwd"},
    "title": {"text": "WD (λ)", "orient": "left", "fontSize": 13.5, "fontWeight": "normal", "offset": 4, "frame": "group"},
    "mark": {"type": "rect", "opacity": 0.95},
    "encoding": {
      "y": {"field": "wd", "type": "ordinal", "sort": "descending", "scale": {"paddingInner": 0, "paddingOuter": 0},
            "axis": {"orient": "right", "title": null, "grid": false, "ticks": false, "labelFontSize": 12, "labelPadding": 4,
                     "labelExpr": "datum.value == 0.1 ? '10⁻¹' : datum.value == 0.0316 ? '10⁻¹·⁵' : datum.value == 0.01 ? '10⁻²' : datum.value == 0.00316 ? '10⁻²·⁵' : '10⁻³'"}},
      "color": {"field": "wd", "type": "ordinal", "scale": {"domain": [0.001, 0.00316, 0.01, 0.0316, 0.1], "range": ["#433d84", "#31668e", "#1f958b", "#3fbc73", "#a5db36"]}, "legend": null}
    }},
   {"width": 12, "height": 127, "data": {"name": "cblr"},
    "title": {"text": "LR (η)", "orient": "left", "fontSize": 13.5, "fontWeight": "normal", "offset": 4, "frame": "group"},
    "mark": {"type": "rect", "opacity": 0.8},
    "encoding": {
      "y": {"field": "lr", "type": "ordinal", "sort": "descending", "scale": {"paddingInner": 0, "paddingOuter": 0},
            "axis": {"orient": "right", "title": null, "grid": false, "ticks": false, "labelFontSize": 12, "labelPadding": 4,
                     "labelExpr": "datum.value == 1 ? '10⁰' : datum.value == 0.1 ? '10⁻¹' : datum.value == 0.01 ? '10⁻²' : datum.value == 0.001 ? '10⁻³' : ''"}},
      "color": {"field": "lr", "type": "ordinal", "scale": {"domain": [0.001, 0.00215, 0.00464, 0.01, 0.0215, 0.0464, 0.1, 0.215, 0.464, 1], "range": ["#0d0887", "#46039f", "#7201a8", "#9c179e", "#bd3786", "#d8576b", "#ed7953", "#fb9f3a", "#fdca26", "#f0f921"]}, "legend": null}
    }}
  ]}
]
}
